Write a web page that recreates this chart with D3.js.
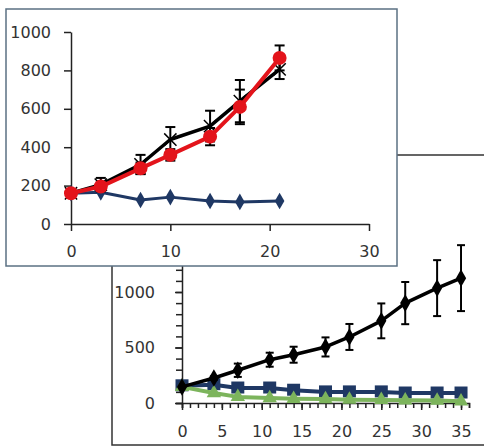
<!DOCTYPE html>
<html>
<head>
<meta charset="utf-8">
<script src="https://cdn.jsdelivr.net/npm/d3@7"></script>
<style>
  html, body { margin: 0; padding: 0; background: #fff; }
  svg text { font-family: "DejaVu Sans", sans-serif; font-size: 16px; fill: #333; }
</style>
</head>
<body>
<svg id="chart" width="484" height="447"></svg>
<script>
// Top panel (days 0-21)
const topDays = [0, 3, 7, 10, 14, 17, 21];
const topBlue = [160, 165, 125, 140, 120, 115, 120];
const topBlack = [160, 205, 310, 440, 510, 640, 805];
const topBlackErr = [20, 35, 50, 65, 80, 110, 50];
const topRed = [160, 195, 290, 360, 455, 610, 865];
const topRedErr = [15, 20, 30, 30, 45, 90, 65];
const topXTicks = [0, 10, 20, 30];
const topYTicks = [0, 200, 400, 600, 800, 1000];

// Bottom panel (days 0-35)
const bottomDays = [0, 4, 7, 11, 14, 18, 21, 25, 28, 32, 35];
const bottomBlack = [145, 225, 295, 390, 435, 505, 595, 740, 900, 1035, 1125];
const bottomBlackErr = [10, 15, 60, 63, 72, 86, 117, 157, 190, 252, 297];
const bottomBlue = [155, 165, 135, 135, 115, 100, 100, 100, 90, 90, 90];
const bottomGreen = [145, 90, 55, 45, 38, 35, 30, 28, 25, 22, 15];
const bottomXTicks = [0, 5, 10, 15, 20, 25, 30, 35];
const bottomYTicks = [0, 500, 1000];

const navy = '#1f3864';
const red = '#e3141b';
const green = '#7cb45c';
const plain = d3.format('d');

const svg = d3.select('#chart');

function errorBars(g, x, y, xs, vals, errs, cap) {
  xs.forEach((d, i) => {
    const cx = x(d);
    const y0 = y(vals[i] - errs[i]);
    const y1 = y(vals[i] + errs[i]);
    g.append('line').attr('x1', cx).attr('x2', cx).attr('y1', y0).attr('y2', y1)
        .attr('stroke', '#000').attr('stroke-width', 2);
    [y0, y1].forEach(yy => {
      g.append('line').attr('x1', cx - cap).attr('x2', cx + cap)
          .attr('y1', yy).attr('y2', yy)
          .attr('stroke', '#000').attr('stroke-width', 2);
    });
  });
}

function series(g, x, y, xs, vals, color, width) {
  const line = d3.line().x((d, i) => x(xs[i])).y(d => y(d));
  g.append('path').datum(vals).attr('d', line)
      .attr('fill', 'none').attr('stroke', color).attr('stroke-width', width)
      .attr('stroke-linejoin', 'round');
}

function styleAxis(g) {
  g.selectAll('path, line').attr('stroke', '#222').attr('stroke-width', 1.5);
}

// ---------- bottom panel ----------
{
  const g = svg.append('g');
  g.append('rect').attr('x', 112).attr('y', 155).attr('width', 400).attr('height', 290)
      .attr('fill', '#fff').attr('stroke', '#333').attr('stroke-width', 1.5);

  const x = d3.scaleLinear().domain([0, 36]).range([182, 469]);
  const y = d3.scaleLinear().domain([0, 1500]).range([403, 236.5]);

  // minor ticks
  const xm = g.append('g').attr('transform', 'translate(0,403)')
      .call(d3.axisBottom(x).tickValues(d3.range(0, 37)).tickSize(5).tickFormat(''));
  styleAxis(xm);
  const ym = g.append('g').attr('transform', 'translate(182,0)')
      .call(d3.axisLeft(y).tickValues(d3.range(0, 1501, 100)).tickSize(6).tickFormat(''));
  styleAxis(ym);

  const xa = g.append('g').attr('transform', 'translate(0,403)')
      .call(d3.axisBottom(x).tickValues(bottomXTicks).tickSize(7).tickPadding(16).tickFormat(plain));
  styleAxis(xa);
  xa.select('.domain').remove();
  const ya = g.append('g').attr('transform', 'translate(182,0)')
      .call(d3.axisLeft(y).tickValues(bottomYTicks).tickSize(7).tickPadding(20).tickFormat(plain));
  styleAxis(ya);
  ya.select('.domain').remove();

  // blue squares
  series(g, x, y, bottomDays, bottomBlue, navy, 4);
  g.selectAll('.sq').data(bottomBlue).enter().append('rect')
      .attr('x', (d, i) => x(bottomDays[i]) - 6.5).attr('y', d => y(d) - 6.5)
      .attr('width', 13).attr('height', 12).attr('fill', navy);

  // green triangles
  series(g, x, y, bottomDays, bottomGreen, green, 4);
  g.selectAll('.tri').data(bottomGreen).enter().append('path')
      .attr('d', d3.symbol(d3.symbolTriangle, 90))
      .attr('transform', (d, i) => `translate(${x(bottomDays[i])},${y(d)})`)
      .attr('fill', green);

  // black diamonds with error bars
  errorBars(g, x, y, bottomDays, bottomBlack, bottomBlackErr, 4);
  series(g, x, y, bottomDays, bottomBlack, '#000', 3.5);
  g.selectAll('.dia').data(bottomBlack).enter().append('path')
      .attr('d', d3.symbol(d3.symbolDiamond, 90))
      .attr('transform', (d, i) => `translate(${x(bottomDays[i])},${y(d)})`)
      .attr('fill', '#000');
}

// ---------- top panel ----------
{
  const g = svg.append('g');
  g.append('rect').attr('x', 6).attr('y', 9).attr('width', 391).attr('height', 257)
      .attr('fill', '#fff').attr('stroke', '#5b7083').attr('stroke-width', 1.5);

  const x = d3.scaleLinear().domain([0, 30]).range([71, 369]);
  const y = d3.scaleLinear().domain([0, 1000]).range([224, 32]);

  const xa = g.append('g').attr('transform', 'translate(0,224)')
      .call(d3.axisBottom(x).tickValues(topXTicks).tickSize(7).tickSizeOuter(0).tickPadding(15).tickFormat(plain));
  styleAxis(xa);
  const ya = g.append('g').attr('transform', 'translate(71,0)')
      .call(d3.axisLeft(y).tickValues(topYTicks).tickSize(7).tickSizeOuter(0).tickPadding(13).tickFormat(plain));
  styleAxis(ya);

  // blue diamonds
  series(g, x, y, topDays, topBlue, navy, 3);
  g.selectAll('.dia').data(topBlue).enter().append('path')
      .attr('d', d3.symbol(d3.symbolDiamond, 80))
      .attr('transform', (d, i) => `translate(${x(topDays[i])},${y(d)})`)
      .attr('fill', navy);

  // black crosses
  errorBars(g, x, y, topDays, topBlack, topBlackErr, 5);
  series(g, x, y, topDays, topBlack, '#000', 3.5);
  g.selectAll('.cross').data(topBlack).enter().append('path')
      .attr('d', d3.symbol(d3.symbolX, 100))
      .attr('transform', (d, i) => `translate(${x(topDays[i])},${y(d)})`)
      .attr('fill', 'none').attr('stroke', '#000').attr('stroke-width', 1.5);

  // red circles
  errorBars(g, x, y, topDays, topRed, topRedErr, 5);
  series(g, x, y, topDays, topRed, red, 4);
  g.selectAll('.dot').data(topRed).enter().append('circle')
      .attr('cx', (d, i) => x(topDays[i])).attr('cy', d => y(d)).attr('r', 7)
      .attr('fill', red);
}
</script>
</body>
</html>
